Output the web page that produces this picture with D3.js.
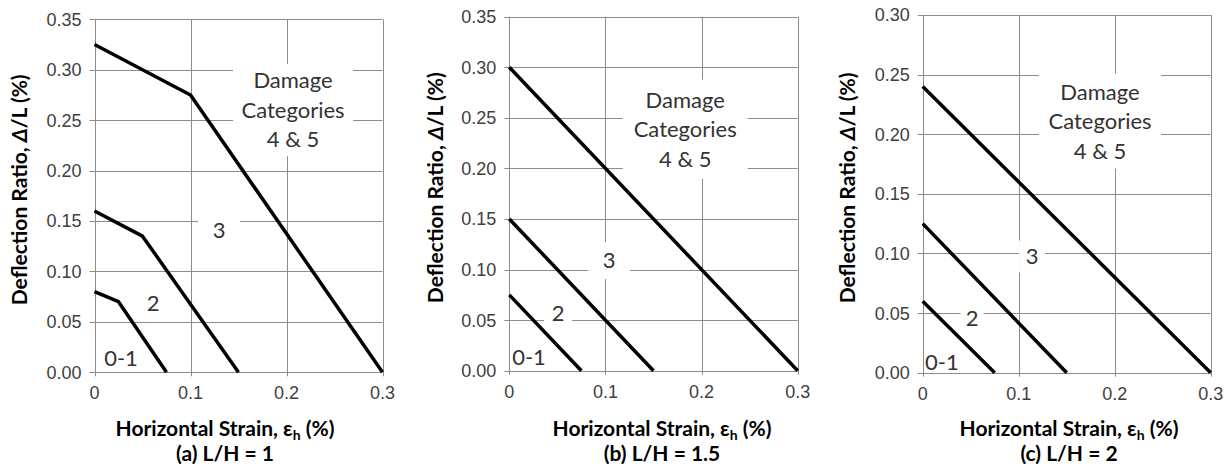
<!DOCTYPE html>
<html>
<head>
<meta charset="utf-8">
<script src="https://cdn.jsdelivr.net/npm/d3@7"></script>
<style>
  body { margin: 0; background: #fff; }
  svg { display: block; }
</style>
</head>
<body>
<div id="chart"></div>
<script>
// chart values
const xTickValues = [0, 0.1, 0.2, 0.3];
const xTickLabels = ["0", "0.1", "0.2", "0.3"];
const yTicksAB = [0, 0.05, 0.10, 0.15, 0.20, 0.25, 0.30, 0.35];
const yTicksC = [0, 0.05, 0.10, 0.15, 0.20, 0.25, 0.30];
const captions = ["(a) L/H = 1", "(b) L/H = 1.5", "(c) L/H = 2"];
const zoneNames = ["0-1", "2", "3"];
const topZone = ["Damage", "Categories", "4 & 5"];

// damage category boundaries, [horizontal strain %, deflection ratio %]
const boundA01 = [[0, 0.08], [0.025, 0.07], [0.075, 0]];
const boundA2 = [[0, 0.16], [0.05, 0.135], [0.15, 0]];
const boundA3 = [[0, 0.325], [0.1, 0.275], [0.3, 0]];
const boundB01 = [[0, 0.075], [0.075, 0]];
const boundB2 = [[0, 0.15], [0.15, 0]];
const boundB3 = [[0, 0.30], [0.3, 0]];
const boundC01 = [[0, 0.06], [0.075, 0]];
const boundC2 = [[0, 0.125], [0.15, 0]];
const boundC3 = [[0, 0.24], [0.3, 0]];

const W = 1228, H = 468;
const GRID = "#8c8c8c";
const TICKFONT = "18px 'Liberation Sans', Arial, sans-serif";
const NOTEFONT = "22px Lato, sans-serif";
const TITLEFONT = "bold 21px Lato, sans-serif";

// layout of each panel (pixels) and where its labels sit (in data units)
const panels = [
  { left: 94.5, right: 382.5, top: 19.3, bottom: 372.3, yTicks: yTicksAB, bounds: [boundA01, boundA2, boundA3],
    titleX: 225, yTitleX: 19,
    zoneAt: [[0.0276, 0.0142, 0, 0], [0.061, 0.069, 26, 28], [0.1297, 0.141, 42, 34]],
    topAt: [0.2068, 0.260, 120, 92] },
  { left: 509.3, right: 797.7, top: 16.7, bottom: 370.7, yTicks: yTicksAB, bounds: [boundB01, boundB2, boundB3],
    titleX: 662, yTitleX: 435,
    zoneAt: [[0.0205, 0.0136, 0, 0], [0.0507, 0.057, 28, 30], [0.1039, 0.109, 42, 37]],
    topAt: [0.183, 0.2388, 125, 99] },
  { left: 922.7, right: 1210.7, top: 15, bottom: 372.7, yTicks: yTicksC, bounds: [boundC01, boundC2, boundC3],
    titleX: 1069, yTitleX: 847,
    zoneAt: [[0.020, 0.009, 0, 0], [0.0514, 0.046, 23, 28], [0.1139, 0.0974, 26, 32]],
    topAt: [0.1847, 0.211, 122, 95] }
];

const svg = d3.select("#chart").append("svg")
  .attr("width", W)
  .attr("height", H);

panels.forEach((p, i) => {
  const x = d3.scaleLinear().domain([0, 0.3]).range([p.left, p.right]);
  const y = d3.scaleLinear().domain([0, d3.max(p.yTicks)]).range([p.bottom, p.top]);
  const g = svg.append("g");

  // grid lines
  g.selectAll(".hgrid").data(p.yTicks).join("line")
    .attr("x1", p.left - 5).attr("x2", p.right)
    .attr("y1", d => Math.round(y(d)) + 0.5).attr("y2", d => Math.round(y(d)) + 0.5)
    .attr("stroke", GRID).attr("stroke-width", 1);
  g.selectAll(".vgrid").data(xTickValues).join("line")
    .attr("x1", d => Math.round(x(d)) + 0.5).attr("x2", d => Math.round(x(d)) + 0.5)
    .attr("y1", p.top).attr("y2", p.bottom + 4)
    .attr("stroke", GRID).attr("stroke-width", 1);

  // tick labels
  g.selectAll(".ylab").data(p.yTicks).join("text")
    .attr("x", p.left - 13).attr("y", d => y(d)).attr("dy", "0.36em")
    .attr("text-anchor", "end")
    .style("font", TICKFONT).attr("fill", "#404040")
    .text(d3.format(".2f"));
  g.selectAll(".xlab").data(xTickValues).join("text")
    .attr("x", d => x(d)).attr("y", p.bottom + 27)
    .attr("text-anchor", "middle")
    .style("font", TICKFONT).attr("fill", "#404040")
    .text((d, k) => xTickLabels[k]);

  // white boxes behind labels that sit on grid lines
  const boxes = p.zoneAt.filter(z => z[2] > 0).concat([p.topAt]);
  g.selectAll(".box").data(boxes).join("rect")
    .attr("x", d => x(d[0]) - d[2] / 2).attr("y", d => y(d[1]) - d[3] / 2)
    .attr("width", d => d[2]).attr("height", d => d[3])
    .attr("fill", "#fff");

  // boundaries
  const line = d3.line().x(d => x(d[0])).y(d => y(d[1]));
  g.selectAll(".bound").data(p.bounds).join("path")
    .attr("d", line)
    .attr("fill", "none").attr("stroke", "#000")
    .attr("stroke-width", 3.5).attr("stroke-linejoin", "round");

  // zone labels
  g.selectAll(".zone").data(p.zoneAt).join("text")
    .attr("x", d => x(d[0])).attr("y", d => y(d[1])).attr("dy", "0.36em")
    .attr("text-anchor", "middle")
    .style("font", NOTEFONT).attr("fill", "#333")
    .text((d, k) => zoneNames[k]);
  g.selectAll(".top").data(topZone).join("text")
    .attr("x", x(p.topAt[0])).attr("y", (d, k) => y(p.topAt[1]) + (k - 1) * 29.5).attr("dy", "0.36em")
    .attr("text-anchor", "middle")
    .style("font", NOTEFONT).attr("fill", "#333")
    .text(d => d);

  // axis titles
  const xt = g.append("text")
    .attr("x", p.titleX).attr("y", 436)
    .attr("text-anchor", "middle")
    .style("font", TITLEFONT).attr("fill", "#000");
  xt.append("tspan").text("Horizontal Strain, \u03b5");
  xt.append("tspan").attr("dy", 4).style("font-size", "14px").text("h");
  xt.append("tspan").attr("dy", -4).text(" (%)");

  g.append("text")
    .attr("x", p.titleX).attr("y", 461)
    .attr("text-anchor", "middle")
    .style("font", TITLEFONT).attr("fill", "#000")
    .text(captions[i]);

  const yt = g.append("text")
    .attr("transform", `translate(${p.yTitleX},${(p.top + p.bottom) / 2 - 6}) rotate(-90)`)
    .attr("dy", "0.36em")
    .attr("text-anchor", "middle")
    .style("font", TITLEFONT).attr("fill", "#000");
  yt.append("tspan").text("Deflection Ratio, ");
  yt.append("tspan").style("font-style", "italic").text("\u0394");
  yt.append("tspan").text("/L (%)");
});
</script>
</body>
</html>
